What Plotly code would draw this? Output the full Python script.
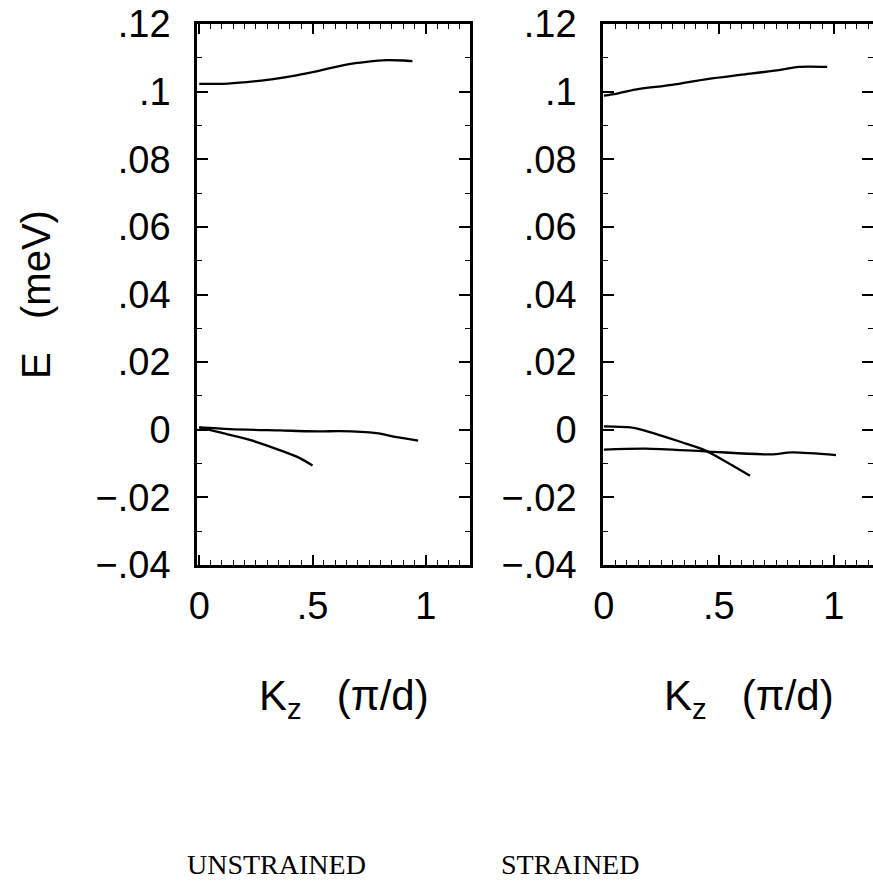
import plotly.graph_objects as go

W, H = 873, 885

# ---- data ----
kz_unstr_upper = [0.0, 0.105, 0.209, 0.326, 0.429, 0.532, 0.650, 0.738, 0.827, 0.900, 0.941]
E_unstr_upper = [0.1023, 0.1023, 0.1028, 0.1037, 0.1048, 0.1062, 0.1080, 0.1088, 0.1093, 0.1092, 0.1090]

kz_unstr_flat = [0.0, 0.135, 0.356, 0.532, 0.620, 0.782, 0.871, 0.966]
E_unstr_flat = [0.0007, 0.0002, -0.0002, -0.0005, -0.0004, -0.0010, -0.0022, -0.0032]

kz_unstr_steep = [0.0, 0.091, 0.223, 0.370, 0.444, 0.500]
E_unstr_steep = [0.0007, -0.0008, -0.0030, -0.0064, -0.0084, -0.0106]

kz_str_upper = [0.0, 0.057, 0.136, 0.296, 0.455, 0.600, 0.774, 0.846, 0.971]
E_str_upper = [0.0988, 0.0994, 0.1006, 0.1020, 0.1038, 0.1050, 0.1065, 0.1073, 0.1073]

kz_str_flat = [0.0, 0.180, 0.440, 0.730, 0.817, 1.009]
E_str_flat = [-0.0059, -0.0056, -0.0064, -0.0073, -0.0067, -0.0075]

kz_str_steep = [0.0, 0.136, 0.238, 0.339, 0.440, 0.542, 0.635]
E_str_steep = [0.0010, 0.0005, -0.0015, -0.0037, -0.0061, -0.0099, -0.0136]

x_tickvals = [0, 0.5, 1]
x_ticktext = ["0", ".5", "1"]
y_tickvals = [-0.04, -0.02, 0, 0.02, 0.04, 0.06, 0.08, 0.10, 0.12]
y_ticktext = ["\u2212.04", "\u2212.02", "0", ".02", ".04", ".06", ".08", ".1", ".12"]

panel_titles = ["UNSTRAINED", "STRAINED"]
x_title = "K<sub>z</sub>\u00a0\u00a0\u00a0(\u03c0/d)"
y_title = "E\u00a0\u00a0\u00a0(meV)"

# ---- figure ----
fig = go.Figure()
line = dict(color="black", width=2.3, shape="spline", smoothing=0.8)
for xs, ys in [(kz_unstr_upper, E_unstr_upper), (kz_unstr_flat, E_unstr_flat),
               (kz_unstr_steep, E_unstr_steep)]:
    fig.add_trace(go.Scatter(x=xs, y=ys, mode="lines", line=line,
                             xaxis="x", yaxis="y", showlegend=False))
for xs, ys in [(kz_str_upper, E_str_upper), (kz_str_flat, E_str_flat),
               (kz_str_steep, E_str_steep)]:
    fig.add_trace(go.Scatter(x=xs, y=ys, mode="lines", line=line,
                             xaxis="x2", yaxis="y2", showlegend=False))

tickfont = dict(family="Liberation Sans, Arial, sans-serif", size=38, color="black")

def xax(domain, rng, anchor):
    return dict(domain=domain, range=rng, anchor=anchor,
                showline=True, linecolor="black", linewidth=2.5, mirror="allticks",
                ticks="inside", ticklen=10, tickwidth=1.5, tickcolor="black",
                tickmode="array", tickvals=x_tickvals, ticktext=x_ticktext,
                minor=dict(ticks="inside", ticklen=5, tickwidth=1.2, tickcolor="black",
                           tickmode="linear", tick0=0, dtick=0.05),
                showgrid=False, zeroline=False, tickfont=tickfont,
                ticklabelstandoff=6, automargin=False)

def yax(domain, anchor):
    return dict(domain=domain, range=[-0.04, 0.12], anchor=anchor,
                showline=True, linecolor="black", linewidth=2.5, mirror="allticks",
                ticks="inside", ticklen=11, tickwidth=1.5, tickcolor="black",
                tickmode="array", tickvals=y_tickvals, ticktext=y_ticktext,
                minor=dict(ticks="inside", ticklen=5, tickwidth=1.2, tickcolor="black",
                           tickmode="linear", tick0=0, dtick=0.01),
                showgrid=False, zeroline=False, tickfont=tickfont,
                ticklabelstandoff=16, automargin=False)

ydom = [1 - 565 / H, 1 - 24 / H]
fig.update_layout(
    width=W, height=H,
    margin=dict(l=0, r=0, t=0, b=0, pad=0, autoexpand=False),
    paper_bgcolor="white", plot_bgcolor="white",
    xaxis=xax([197 / W, 470 / W], [-0.01, 1.195], "y"),
    yaxis=yax(ydom, "x"),
    xaxis2=xax([603 / W, 1.0], [-0.004, 1.17], "y2"),
    yaxis2=yax(ydom, "x2"),
)

def px(x, y):
    return x / W, 1 - y / H

annots = []
titlefont = dict(family="Liberation Sans, Arial, sans-serif", size=42, color="black")
for cx in [344, 749]:
    ax_, ay_ = px(cx, 698)
    annots.append(dict(x=ax_, y=ay_, xref="paper", yref="paper", text=x_title,
                       showarrow=False, font=titlefont, xanchor="center", yanchor="middle"))
ax_, ay_ = px(36, 295)
annots.append(dict(x=ax_, y=ay_, xref="paper", yref="paper", text=y_title, textangle=-90,
                   showarrow=False, font=dict(family="Liberation Sans, Arial, sans-serif",
                                              size=40, color="black"),
                   xanchor="center", yanchor="middle"))
serif = dict(family="Liberation Serif, serif", size=28, color="black")
for cx, t in zip([276, 570], panel_titles):
    ax_, ay_ = px(cx, 864)
    annots.append(dict(x=ax_, y=ay_, xref="paper", yref="paper", text=t,
                       showarrow=False, font=serif, xanchor="center", yanchor="middle"))
fig.update_layout(annotations=annots)

fig.write_html("out.html")
